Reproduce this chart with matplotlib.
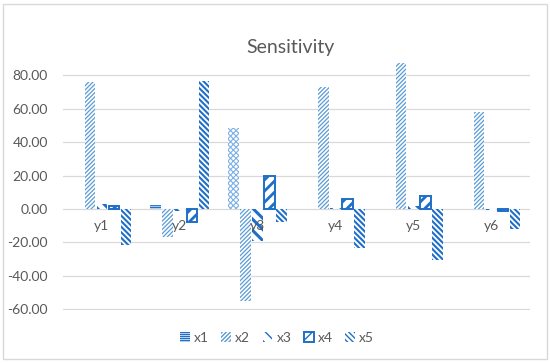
#!/usr/bin/env python3
# plot.py - Sensitivity bar chart (Excel-style patterned bars)

import numpy as np
import matplotlib
matplotlib.use("Agg")
import matplotlib.pyplot as plt
from matplotlib.patches import Rectangle, Patch
from matplotlib.transforms import blended_transform_factory, offset_copy

plt.rcParams['font.family'] = ['Lato', 'DejaVu Sans']

categories = ['y1', 'y2', 'y3', 'y4', 'y5', 'y6']
series_names = ['x1', 'x2', 'x3', 'x4', 'x5']
x1 = [0.0, 2.5, 48.8, 0.0, 0.0, 0.0]
x2 = [76.0, -17.0, -55.3, 73.0, 87.7, 58.0]
x3 = [3.0, -1.5, -19.0, 0.8, 2.0, -0.5]
x4 = [1.5, -7.8, 19.5, 6.0, 8.0, -1.5]
x5 = [-21.8, 76.9, -8.0, -23.3, -30.7, -11.8]
y_ticks = [-60, -40, -20, 0, 20, 40, 60, 80]

DARK = '#1F6FC8'
LIGHT = '#5B9BD5'
PALE = '#7DB1E6'
GREY = '#595959'

# (color, hatch, hatch linewidth, border width)
styles = {
    'x1': (DARK, '--------', 1.0, 0),
    'x2': (LIGHT, '////////', 0.9, 0),
    'x3': (DARK, '\\\\\\', 2.2, 0),
    'x4': (DARK, '///', 2.0, 1.4),
    'x5': (DARK, '\\\\\\\\\\\\', 1.5, 0),
}


def draw_bars(ax, xpos, vals, name, width):
    color, hatch, hlw, blw = styles[name]
    with plt.rc_context({'hatch.linewidth': hlw}):
        bars = ax.bar(xpos, vals, width, facecolor='white', edgecolor=color,
                      hatch=hatch, linewidth=blw, label=name, zorder=3)
    return bars


fig = plt.figure(figsize=(5.5, 3.63), dpi=100)
ax = fig.add_axes([63 / 550, 1 - 310 / 363, 467 / 550, (310 - 58.8) / 363])

idx = np.arange(len(categories))
step = 0.155
width = 0.135
data = [x1, x2, x3, x4, x5]
for k, (name, vals) in enumerate(zip(series_names, data)):
    bars = draw_bars(ax, idx + (k - 2) * step, vals, name, width)

# y3 point of x1 has its own pattern fill
with plt.rc_context({'hatch.linewidth': 0.8}):
    ax.bar(idx[2] - 2 * step, x1[2], width, facecolor='white', edgecolor=PALE,
           hatch='xxxxxx', linewidth=0, zorder=3.5)

ax.set_xlim(-0.5, len(categories) - 0.5)
ax.set_ylim(-60.6, 90)
ax.set_yticks(y_ticks)
ax.set_yticklabels([f"{v:.2f}" for v in y_ticks], color=GREY, fontsize=10)
ax.tick_params(axis='y', length=0, pad=11)
ax.set_xticks([])
ax.grid(True, axis='y', color='#D9D9D9', linewidth=0.9, zorder=0)
ax.set_axisbelow(True)
for sp in ax.spines.values():
    sp.set_visible(False)

# category labels just under the zero line
trans = offset_copy(blended_transform_factory(ax.transData, ax.transData),
                    fig=fig, y=-17, units='dots')
for i, c in enumerate(categories):
    ax.text(i, 0, c, transform=trans, ha='center', va='center',
            color=GREY, fontsize=10, zorder=4)

fig.text(290 / 550, 1 - 47 / 363, 'Sensitivity', ha='center', va='center',
         color=GREY, fontsize=14)

handles = []
for name in series_names:
    color, hatch, hlw, blw = styles[name]
    handles.append(Patch(facecolor='white', edgecolor=color, hatch=hatch,
                         linewidth=blw))
fig.legend(handles, series_names, loc='center', bbox_to_anchor=(277 / 550, 1 - 338 / 363),
           ncol=5, frameon=False, fontsize=10, handlelength=0.7, handleheight=0.7,
           handletextpad=0.3, columnspacing=0.9, labelcolor=GREY)

fig.patches.append(Rectangle((3 / 550, 4 / 363), 544 / 550, 355 / 363,
                             transform=fig.transFigure, fill=False,
                             edgecolor='#D9D9D9', linewidth=1.0))

fig.savefig('out.png', dpi=100)
